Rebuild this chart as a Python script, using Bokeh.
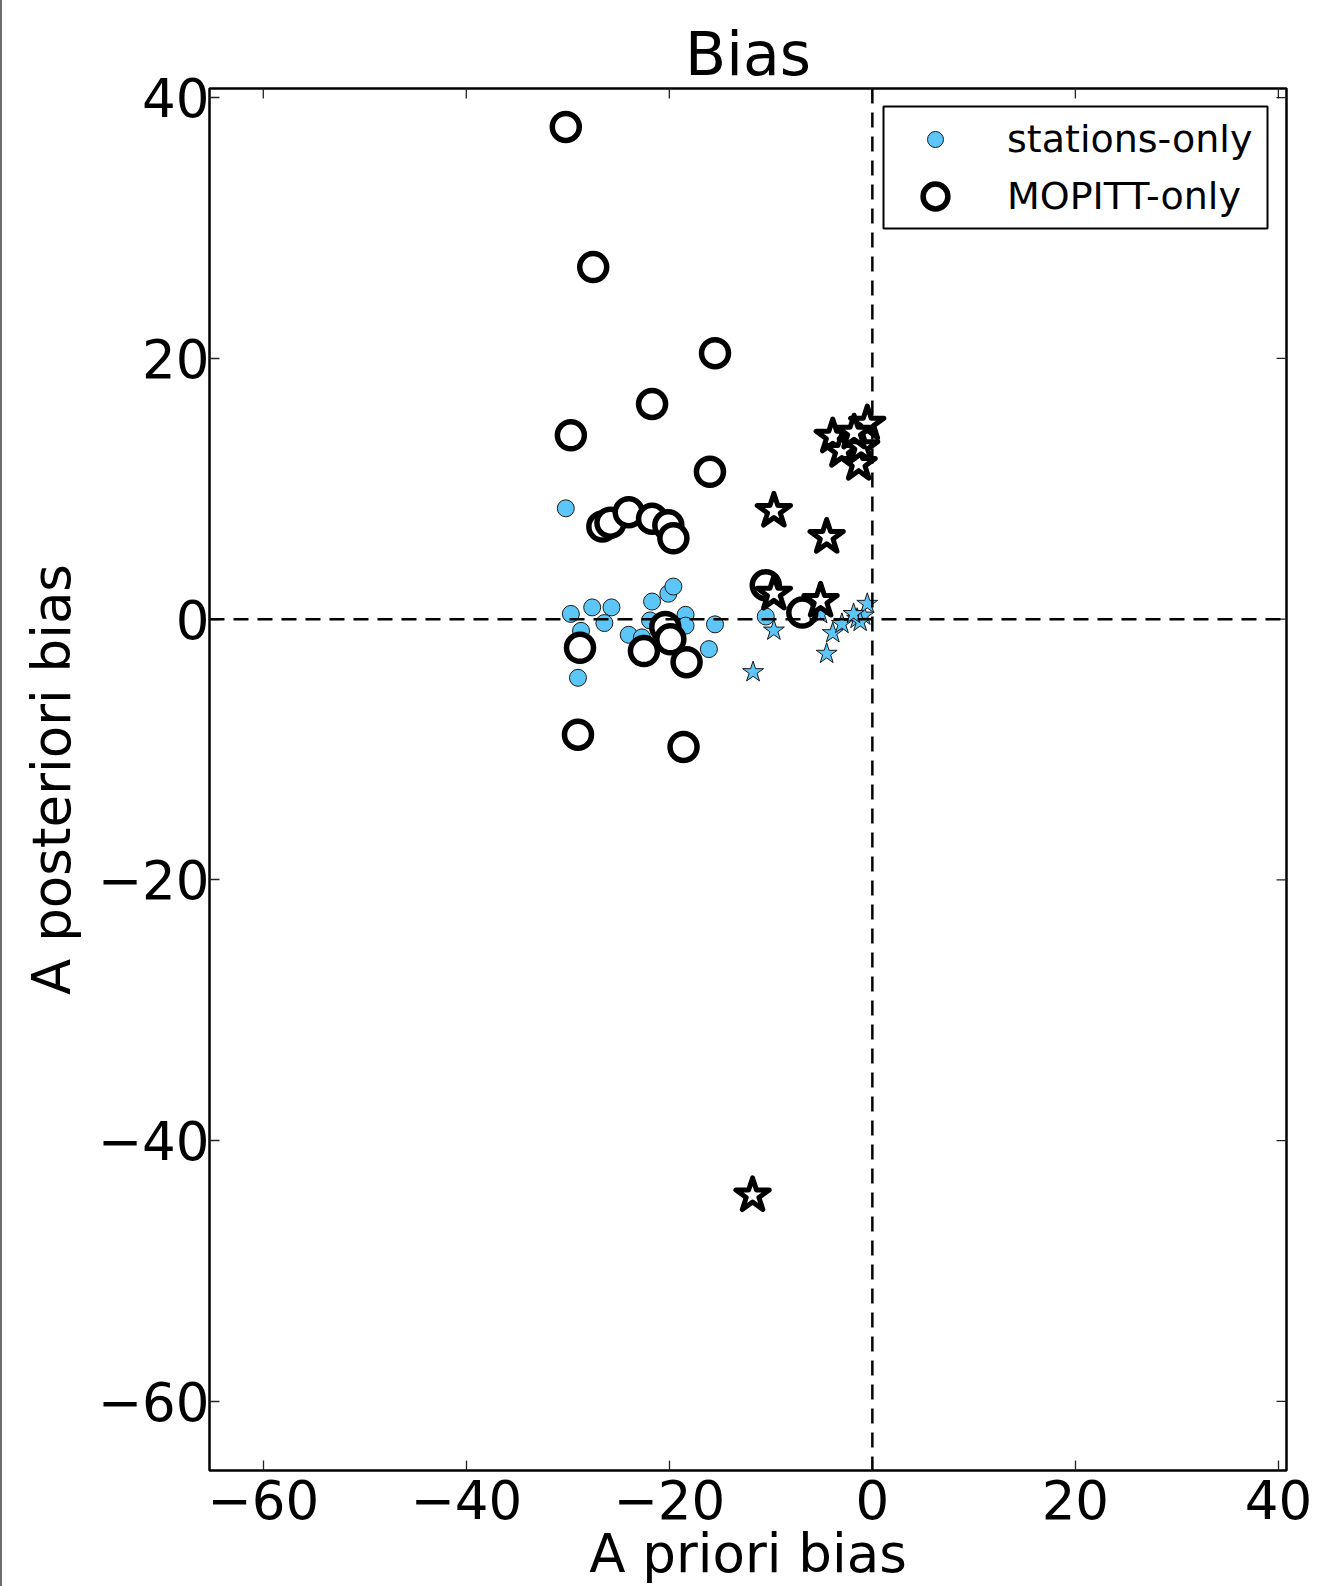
import math
from bokeh.plotting import figure
from bokeh.models import (Span, Legend, LegendItem, Div, BoxAnnotation,
                          Range1d, FixedTicker)
from bokeh.layouts import row
from bokeh.embed import file_html
from bokeh.resources import INLINE

FONT = "DejaVu Sans"
title_text = "Bias"
x_label = "A priori bias"
y_label = "A posteriori bias"
tick_values = [-60, -40, -20, 0, 20, 40]
tick_labels = ["\u221260", "\u221240", "\u221220", "0", "20", "40"]
x_limits = (-65.3, 40.8)
y_limits = (-65.3, 40.7)

# stations-only, circles
st_circ_x = [-30.2, -29.7, -27.6, -25.7, -26.4, -28.7, -29.0, -21.7, -20.1, -19.6,
             -18.4, -15.5, -16.1, -24.0, -21.9, -18.4, -22.7, -10.5, -20.4, -19.9, -6.9]
st_circ_y = [8.5, 0.4, 0.9, 0.9, -0.3, -0.9, -4.5, 1.35, 1.95, 2.5,
             0.33, -0.4, -2.3, -1.2, -0.1, -0.5, -1.4, 0.2, -0.8, -1.0, 0.3]
# MOPITT-only, circles
mo_circ_x = [-30.2, -27.5, -15.5, -21.7, -29.7, -16.0, -26.6, -25.8, -24.0, -21.7,
             -20.1, -19.6, -28.8, -22.5, -20.4, -19.9, -18.3, -29.0, -18.6, -10.5, -6.9]
mo_circ_y = [37.75, 27.0, 20.4, 16.5, 14.1, 11.3, 7.1, 7.4, 8.2, 7.7,
             7.2, 6.2, -2.2, -2.45, -0.6, -1.55, -3.3, -8.86, -9.8, 2.6, 0.5]
# stations-only, stars
st_star_x = [-9.7, -11.75, -4.5, -3.9, -3.0, -1.5, -0.85, -0.5, -1.2, -1.85, -5.1]
st_star_y = [-0.87, -4.06, -2.65, -1.07, -0.36, 0.03, 0.28, 1.18, -0.2, 0.4, 0.4]
# MOPITT-only, stars
mo_star_x = [-9.7, -11.8, -4.5, -3.9, -3.0, -1.35, -1.1, -0.5, -1.8, -5.1, -9.7]
mo_star_y = [8.3, -44.2, 6.3, 14.0, 12.9, 11.9, 13.2, 15.0, 14.3, 1.4, 1.95]

BLUE = "#5cc6f9"

p = figure(width=1318, height=1586, output_backend="svg", toolbar_location=None,
           x_range=Range1d(*x_limits), y_range=Range1d(*y_limits),
           min_border_left=207, min_border_right=34, min_border_top=88,
           min_border_bottom=115, background_fill_color="white",
           border_fill_color="white", margin=0)
p.grid.visible = False
p.outline_line_color = "black"
p.outline_line_width = 2.5
p.outline_line_alpha = 1

p.title.text = title_text
p.title.align = "center"
p.title.offset = 9
p.title.text_font = FONT
p.title.text_font_size = "60px"
p.title.text_font_style = "normal"
p.title.text_color = "black"
p.title.standoff = 0

overrides = {v: s for v, s in zip(tick_values, tick_labels)}

xa = p.xaxis[0]
ya = p.yaxis[0]
for ax in (xa, ya):
    ax.ticker = FixedTicker(ticks=tick_values)
    ax.minor_tick_line_color = None
    ax.major_tick_in = 10
    ax.major_tick_out = 0
    ax.major_tick_line_color = "#222222"
    ax.major_tick_line_width = 1.3
    ax.axis_line_color = None
    ax.major_label_overrides = overrides
    ax.major_label_text_font = FONT
    ax.major_label_text_color = "black"
    ax.major_label_text_font_size = "53px"
    ax.axis_label_text_font = FONT
    ax.axis_label_text_font_size = "53px"
    ax.axis_label_text_font_style = "normal"
    ax.axis_label_text_color = "black"
xa.axis_label = x_label
ya.axis_label = y_label
xa.major_label_standoff = 9
ya.major_label_standoff = 0
xa.axis_label_standoff = 1
ya.axis_label_standoff = 13

# inward ticks on the top and right edges (clipped to the frame)
p.scatter(tick_values, [y_limits[1]] * len(tick_values), marker="dash", size=20,
          angle=math.pi / 2, line_color="#222222", line_width=1.3)
p.scatter([x_limits[1]] * len(tick_values), tick_values, marker="dash", size=20,
          line_color="#222222", line_width=1.3)

p.add_layout(Span(location=0, dimension="height", line_color="black",
                  line_width=2.5, line_dash="15 9"))
p.add_layout(Span(location=0, dimension="width", line_color="black",
                  line_width=2.5, line_dash="15 9"))

r_st_c = p.scatter(st_circ_x, st_circ_y, marker="circle", size=17,
                   fill_color=BLUE, line_color="#1a1a1a", line_width=1)
r_st_s = p.scatter(st_star_x, st_star_y, marker="star", size=22,
                   fill_color=BLUE, line_color="#1a1a1a", line_width=1)
r_mo_c = p.scatter(mo_circ_x, mo_circ_y, marker="circle", size=27,
                   fill_color="white", line_color="black", line_width=5.5)
r_mo_s = p.scatter(mo_star_x, mo_star_y, marker="star", size=35,
                   fill_color="white", line_color="black", line_width=5,
                   line_join="round")

# legend frame
box = BoxAnnotation(left=881, right=1265, top=106, bottom=228,
                    left_units="canvas", right_units="canvas",
                    top_units="canvas", bottom_units="canvas",
                    fill_color="white", fill_alpha=1,
                    line_color="black", line_width=2, line_alpha=1)
p.add_layout(box)

def make_legend(label, rend, gh, vy):
    return Legend(items=[LegendItem(label=label, renderers=[rend])],
                  location=(692, vy), orientation="vertical",
                  glyph_width=68, glyph_height=gh, label_standoff=38,
                  padding=0, margin=0, spacing=0,
                  border_line_color=None, background_fill_alpha=0,
                  label_text_font=FONT, label_text_font_size="38px",
                  label_text_color="black")

p.add_layout(make_legend("stations-only", r_st_c, 40, 1309))
p.add_layout(make_legend("MOPITT-only", r_mo_c, 62, 1243))

edge = Div(width=2, height=1586, margin=0,
           styles={"background-color": "#6e6e6e"})
layout = row(edge, p, spacing=0, margin=0)

open("out.html", "w").write(file_html(layout, INLINE))
